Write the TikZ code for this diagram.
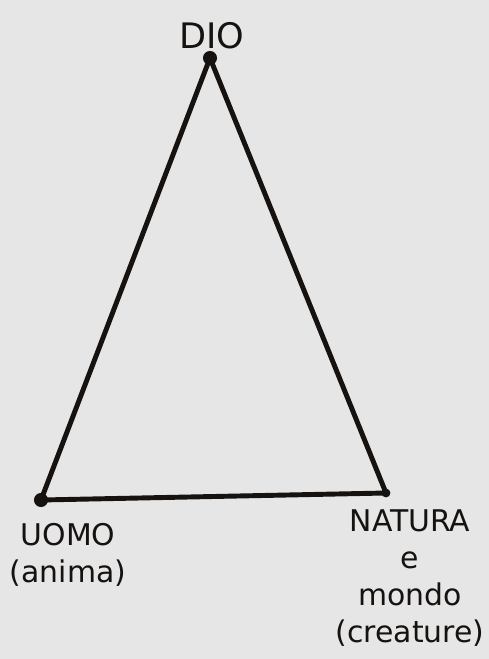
\documentclass[tikz,border=0pt]{standalone}
\usepackage{fontspec}
\setmainfont{DejaVu Sans}
\usetikzlibrary{positioning}
\definecolor{paper}{HTML}{E6E6E6}
\definecolor{ink}{HTML}{151210}
\tikzset{
	edge/.style={draw=ink,line width=2.8pt,line join=round,line cap=round},
	vertex/.style={circle,fill=ink,inner sep=0pt,minimum size=8pt},
	lbl/.style={text=ink,font=\fontsize{17}{21}\selectfont,align=center,inner sep=1pt}
}
\begin{document}
\begin{tikzpicture}[x=0.02cm,y=-0.02cm]

	% paper
	\fill[paper] (0,0) rectangle (489,659);
	\useasboundingbox (0,0) rectangle (489,659);

	% corners
	\node[vertex] (dio) at (210,58) {};
	\node[vertex] (uomo) at (41,500) {};
	\node[vertex,minimum size=5pt] (natura) at (386,493) {};

	% triangle
	\draw[edge] (dio.center) -- (uomo.center) -- (natura.center) -- cycle;

	% labels
	\node[lbl,font=\fontsize{20}{24}\selectfont] (tdio) at (212,36) {DIO};
	\node[lbl] (tuomo) at (68,555) {UOMO\\(anima)};
	\node[lbl] (tnatura) at (410,578) {NATURA\\e\\mondo\\(creature)};

\end{tikzpicture}
\end{document}
